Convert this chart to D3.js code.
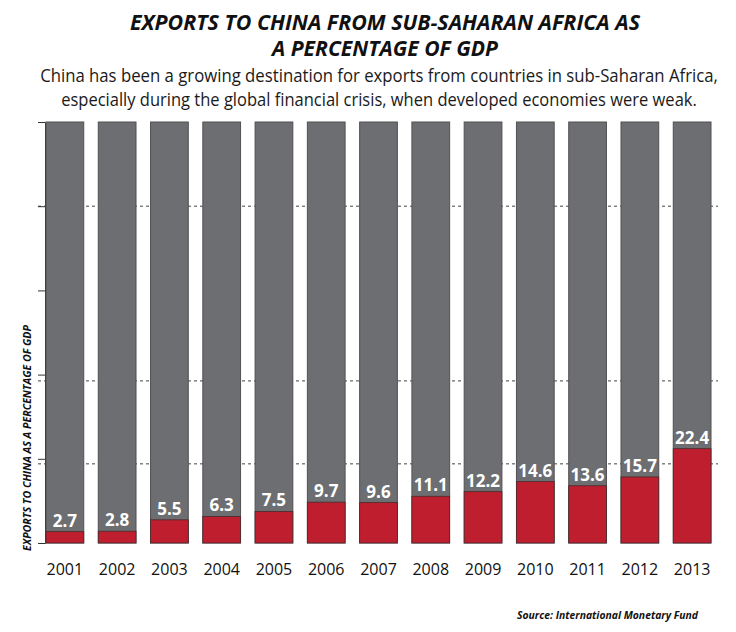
<!DOCTYPE html>
<html><head><meta charset="utf-8">
<script src="https://cdn.jsdelivr.net/npm/d3@7"></script>
<style>body{margin:0;background:#fff}svg{display:block}</style>
</head><body>
<script>
const years = ["2001","2002","2003","2004","2005","2006","2007","2008","2009","2010","2011","2012","2013"];
const values = [2.7, 2.8, 5.5, 6.3, 7.5, 9.7, 9.6, 11.1, 12.2, 14.6, 13.6, 15.7, 22.4];
const yTicks = [0, 20, 40, 60, 80, 100];
const gridValues = [18.8, 38.5, 80];
const titleLines = ["EXPORTS TO CHINA FROM SUB-SAHARAN AFRICA AS", "A PERCENTAGE OF GDP"];
const subtitleLines = ["China has been a growing destination for exports from countries in sub-Saharan Africa,", "especially during the global financial crisis, when developed economies were weak."];
const yTitle = "EXPORTS TO CHINA AS A PERCENTAGE OF GDP";
const source = "Source: International Monetary Fund";

const W = 736, H = 632;
const svg = d3.select("body").append("svg").attr("width", W).attr("height", H);
const font = "'Open Sans', sans-serif";

// horizontally squeeze a text to a target width (simulates a condensed face)
function fitWidth(sel, cx, cy, target, anchor) {
  const n = sel.node();
  const w = n.getComputedTextLength();
  const k = target / w;
  sel.attr("x", 0).attr("y", 0).attr("text-anchor", anchor || "middle")
     .attr("transform", `translate(${cx},${cy}) scale(${k},1)`);
}

const x = d3.scaleBand().domain(years).range([46, 711]).paddingInner(0.278).paddingOuter(0);
const y = d3.scaleLinear().domain([0, 100]).range([543, 122]);

// title: one text block with two lines
const tLens = [510, 226];
const title = svg.append("text")
  .attr("font-family", font).attr("font-weight", 700).attr("font-style", "italic")
  .attr("font-size", 22).attr("fill", "#111").attr("text-anchor", "middle");
titleLines.forEach((t, i) => {
  title.append("tspan").attr("x", 385).attr("y", 30 + i * 26)
    .attr("textLength", tLens[i]).attr("lengthAdjust", "spacingAndGlyphs").text(t);
});

const sLens = [678, 636];
subtitleLines.forEach((t, i) => {
  const s = svg.append("text")
    .attr("font-family", font).attr("font-size", 18).attr("fill", "#1a1a1a").text(t);
  fitWidth(s, 379, 82 + i * 24, sLens[i]);
});

// gridlines
svg.append("g").selectAll("line").data(gridValues).join("line")
  .attr("x1", 38).attr("x2", 718).attr("y1", d => y(d)).attr("y2", d => y(d))
  .attr("stroke", "#444").attr("stroke-width", 1).attr("stroke-dasharray", "3,3");

// axis
const ax = svg.append("g").attr("transform", "translate(45,0)")
  .call(d3.axisLeft(y).tickValues(yTicks).tickSize(7).tickFormat(""));
ax.selectAll("path,line").attr("stroke", "#333");

// background bars
svg.append("g").selectAll("rect").data(years).join("rect")
  .attr("x", d => x(d)).attr("width", x.bandwidth())
  .attr("y", y(100)).attr("height", y(0) - y(100))
  .attr("fill", "#6d6e71").attr("stroke", "#515153").attr("stroke-width", 1);

// red bars
svg.append("g").selectAll("rect").data(values).join("rect")
  .attr("x", (d, i) => x(years[i])).attr("width", x.bandwidth())
  .attr("y", d => y(d)).attr("height", d => y(0) - y(d))
  .attr("fill", "#be1e2d").attr("stroke", "#4a2a2c").attr("stroke-width", 0.8);

// value labels
svg.append("g").selectAll("text").data(values).join("text")
  .attr("x", (d, i) => x(years[i]) + x.bandwidth() / 2).attr("y", d => y(d) - 5)
  .attr("text-anchor", "middle").attr("font-family", font).attr("font-weight", 700)
  .attr("font-size", 17).attr("fill", "#fff").text(d => d.toFixed(1));

// year labels
svg.append("g").selectAll("text").data(years).join("text")
  .attr("x", d => x(d) + x.bandwidth() / 2).attr("y", 575)
  .attr("text-anchor", "middle").attr("font-family", font)
  .attr("font-size", 16).attr("fill", "#111").text(d => d);

// y title
svg.append("text").attr("transform", "translate(31,438) rotate(-90)")
  .attr("text-anchor", "middle").attr("font-family", font).attr("font-weight", 700)
  .attr("font-style", "italic").attr("font-size", 11).attr("fill", "#111")
  .attr("textLength", 226).attr("lengthAdjust", "spacingAndGlyphs").text(yTitle);

// source
svg.append("text").attr("x", 698).attr("y", 619).attr("text-anchor", "end")
  .attr("font-family", font).attr("font-weight", 700).attr("font-style", "italic")
  .attr("font-size", 11).attr("fill", "#111")
  .attr("textLength", 181).attr("lengthAdjust", "spacingAndGlyphs").text(source);
</script>
</body></html>
